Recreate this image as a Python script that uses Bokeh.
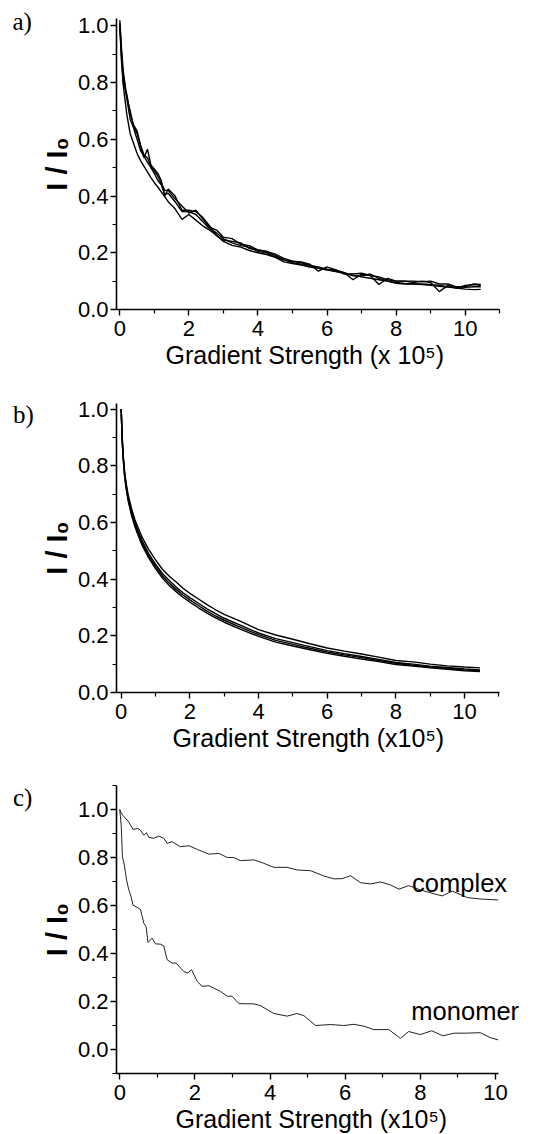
from bokeh.plotting import figure
from bokeh.layouts import column, row
from bokeh.models import FixedTicker, PrintfTickFormatter, Label, Range1d, Title
from bokeh.core.properties import value
from bokeh.embed import file_html
from bokeh.resources import INLINE

# ---------------- panel a data ----------------
xa = [0, 0.05, 0.1, 0.2, 0.3, 0.4, 0.5, 0.6, 0.7, 0.8,
      0.9, 1.0, 1.1, 1.2, 1.3, 1.4, 1.6, 1.8, 2.0, 2.2,
      2.4, 2.6, 2.8, 3.0, 3.25, 3.5, 3.75, 4.0, 4.25, 4.5,
      4.75, 5.0, 5.25, 5.5, 5.75, 6.0, 6.25, 6.5, 6.75, 7.0,
      7.25, 7.5, 7.75, 8.0, 8.25, 8.5, 8.75, 9.0, 9.25, 9.5,
      9.75, 10.0, 10.25, 10.45]
a1 = [1.0, 0.87, 0.79, 0.69, 0.62, 0.585, 0.55, 0.525, 0.505, 0.485,
      0.465, 0.447, 0.432, 0.415, 0.398, 0.38, 0.355, 0.318, 0.335, 0.315,
      0.295, 0.28, 0.262, 0.24, 0.226, 0.22, 0.208, 0.2, 0.194, 0.184,
      0.168, 0.162, 0.157, 0.15, 0.145, 0.14, 0.134, 0.128, 0.12, 0.115,
      0.11, 0.105, 0.1, 0.095, 0.092, 0.09, 0.088, 0.085, 0.082, 0.079,
      0.076, 0.072, 0.07, 0.071]
a2 = [1.02, 0.92, 0.84, 0.75, 0.70, 0.645, 0.62, 0.575, 0.535, 0.565,
      0.51, 0.495, 0.48, 0.455, 0.40, 0.425, 0.40, 0.35, 0.35, 0.345,
      0.325, 0.295, 0.26, 0.245, 0.24, 0.235, 0.215, 0.21, 0.205, 0.19,
      0.175, 0.17, 0.168, 0.16, 0.135, 0.15, 0.14, 0.13, 0.105, 0.125,
      0.12, 0.088, 0.11, 0.1, 0.1, 0.095, 0.1, 0.095, 0.063, 0.085,
      0.075, 0.085, 0.088, 0.085]
a3 = [1.01, 0.9, 0.8, 0.76, 0.69, 0.65, 0.63, 0.58, 0.545, 0.535,
      0.505, 0.49, 0.47, 0.445, 0.42, 0.42, 0.39, 0.365, 0.34, 0.35,
      0.32, 0.29, 0.28, 0.255, 0.25, 0.23, 0.225, 0.21, 0.205, 0.195,
      0.18, 0.17, 0.165, 0.155, 0.15, 0.142, 0.14, 0.125, 0.125, 0.128,
      0.12, 0.115, 0.105, 0.1, 0.1, 0.1, 0.098, 0.1, 0.09, 0.09,
      0.08, 0.078, 0.08, 0.08]
a4 = [1.0, 0.89, 0.83, 0.745, 0.67, 0.64, 0.60, 0.56, 0.54, 0.52,
      0.50, 0.48, 0.455, 0.44, 0.405, 0.41, 0.38, 0.345, 0.345, 0.335,
      0.31, 0.285, 0.27, 0.25, 0.235, 0.225, 0.22, 0.205, 0.2, 0.185,
      0.175, 0.165, 0.16, 0.155, 0.145, 0.14, 0.135, 0.13, 0.12, 0.118,
      0.125, 0.11, 0.1, 0.092, 0.09, 0.09, 0.09, 0.088, 0.085, 0.08,
      0.078, 0.08, 0.09, 0.088]

# ---------------- panel b data ----------------
xb = [0, 0.02, 0.05, 0.1, 0.15, 0.2, 0.3, 0.4, 0.5, 0.6,
      0.8, 1.0, 1.2, 1.4, 1.6, 1.8, 2.0, 2.25, 2.5, 2.75,
      3.0, 3.5, 4.0, 4.5, 5.0, 5.5, 6.0, 6.5, 7.0, 7.5,
      8.0, 8.5, 9.0, 9.5, 10.0, 10.45]
b1 = [1.0, 0.93, 0.85, 0.78, 0.735, 0.70, 0.65, 0.61, 0.58, 0.55,
      0.505, 0.468, 0.435, 0.41, 0.39, 0.368, 0.35, 0.33, 0.31, 0.292,
      0.276, 0.25, 0.222, 0.203, 0.188, 0.172, 0.157, 0.146, 0.136, 0.125,
      0.113, 0.108, 0.1, 0.094, 0.09, 0.087]
b2 = [1.0, 0.925, 0.845, 0.772, 0.727, 0.69, 0.64, 0.6, 0.568, 0.538,
      0.49, 0.453, 0.42, 0.395, 0.372, 0.352, 0.335, 0.315, 0.295, 0.278,
      0.262, 0.236, 0.21, 0.19, 0.176, 0.162, 0.148, 0.137, 0.127, 0.117,
      0.106, 0.1, 0.093, 0.088, 0.083, 0.08]
b3 = [1.0, 0.92, 0.84, 0.766, 0.72, 0.684, 0.632, 0.592, 0.56, 0.53,
      0.482, 0.445, 0.412, 0.386, 0.364, 0.344, 0.327, 0.307, 0.287, 0.27,
      0.255, 0.229, 0.204, 0.184, 0.17, 0.156, 0.143, 0.133, 0.123, 0.113,
      0.103, 0.096, 0.09, 0.085, 0.08, 0.077]
b4 = [1.0, 0.918, 0.835, 0.76, 0.714, 0.678, 0.625, 0.585, 0.552, 0.522,
      0.475, 0.437, 0.404, 0.378, 0.356, 0.336, 0.319, 0.299, 0.28, 0.263,
      0.248, 0.222, 0.198, 0.178, 0.164, 0.151, 0.138, 0.128, 0.118, 0.109,
      0.099, 0.093, 0.087, 0.082, 0.077, 0.074]

# ---------------- panel c data ----------------
xc = [0.0, 0.02, 0.08, 0.24, 0.35, 0.48, 0.55, 0.64, 0.71, 0.77,
      0.9, 1.04, 1.17, 1.26, 1.39, 1.61, 1.84, 2.06, 2.37, 2.64,
      2.86, 3.03, 3.21, 3.57, 3.83, 4.1, 4.45, 4.72, 5.08, 5.43,
      5.7, 5.92, 6.14, 6.41, 6.67, 6.94, 7.2, 7.43, 7.69, 8.0,
      8.31, 8.58, 8.85, 9.25, 9.6, 10.07]
complex_y = [1.0, 0.99, 0.976, 0.948, 0.917, 0.921, 0.914, 0.893, 0.903, 0.884,
             0.88, 0.889, 0.88, 0.859, 0.866, 0.845, 0.849, 0.834, 0.814, 0.817,
             0.8, 0.8, 0.787, 0.79, 0.776, 0.759, 0.759, 0.748, 0.745, 0.723,
             0.711, 0.712, 0.724, 0.695, 0.69, 0.698, 0.686, 0.668, 0.683, 0.665,
             0.651, 0.64, 0.66, 0.633, 0.627, 0.623]
xm = [0.0, 0.04, 0.07, 0.12, 0.18, 0.24, 0.30, 0.35, 0.55, 0.64,
      0.70, 0.75, 0.86, 0.95, 1.08, 1.17, 1.26, 1.39, 1.50, 1.70,
      1.81, 1.91, 2.06, 2.19, 2.37, 2.68, 2.86, 2.99, 3.17, 3.57,
      3.74, 4.1, 4.45, 4.72, 4.9, 5.21, 5.61, 5.96, 6.23, 6.5,
      6.76, 7.16, 7.47, 7.69, 8.0, 8.3, 8.6, 8.9, 9.2, 9.6,
      9.85, 10.07]
monomer_y = [1.0, 0.928, 0.803, 0.769, 0.706, 0.665, 0.637, 0.602, 0.584, 0.526,
             0.512, 0.446, 0.464, 0.44, 0.439, 0.432, 0.374, 0.36, 0.36, 0.325,
             0.319, 0.332, 0.284, 0.263, 0.266, 0.242, 0.222, 0.222, 0.191, 0.19,
             0.183, 0.15, 0.139, 0.15, 0.141, 0.1, 0.104, 0.1, 0.105, 0.097,
             0.083, 0.083, 0.046, 0.075, 0.062, 0.078, 0.057, 0.068, 0.068, 0.07,
             0.05, 0.04]

x_major = [0, 2, 4, 6, 8, 10]
y_major = [0.0, 0.2, 0.4, 0.6, 0.8, 1.0]
panel_tags = ["a)", "b)", "c)"]

SANS = "Liberation Sans"
SERIF = "Liberation Serif"


def make_fig(height, top, bottom, xr, xbounds, yr, x_minor, y_minor, xlabel, label_offset):
    # frame runs to the right edge of the page; the x axis is bounded to its own extent
    p = figure(width=502, height=height, x_range=Range1d(*xr), y_range=Range1d(*yr),
               output_backend="svg", toolbar_location=None,
               min_border_left=80, min_border_right=0,
               min_border_top=top, min_border_bottom=bottom)
    p.xgrid.visible = False
    p.ygrid.visible = False
    p.outline_line_color = None
    p.background_fill_color = "white"
    p.border_fill_color = "white"
    p.xaxis.bounds = xbounds
    p.xaxis.ticker = FixedTicker(ticks=x_major, minor_ticks=x_minor)
    p.yaxis.ticker = FixedTicker(ticks=y_major, minor_ticks=y_minor)
    p.yaxis.formatter = PrintfTickFormatter(format="%.1f")
    for ax in (p.xaxis[0], p.yaxis[0]):
        ax.axis_line_width = 1.6
        ax.axis_line_color = "black"
        ax.major_tick_line_width = 1.4
        ax.minor_tick_line_width = 1.2
        ax.major_tick_line_color = "black"
        ax.minor_tick_line_color = "black"
        ax.major_tick_out = 6
        ax.major_tick_in = 0
        ax.minor_tick_out = 4
        ax.minor_tick_in = 0
        ax.major_label_text_font = SANS
        ax.major_label_text_font_size = "22px"
        ax.major_label_text_color = "black"
    p.xaxis.major_label_standoff = 5
    p.yaxis.major_label_standoff = 2
    p.yaxis.axis_label = "I / I\u2080"
    p.yaxis.axis_label_text_font = SANS
    p.yaxis.axis_label_text_font_size = "29px"
    p.yaxis.axis_label_text_font_style = "bold"
    p.yaxis.axis_label_text_color = "black"
    p.yaxis.axis_label_standoff = 2
    p.add_layout(Title(text=xlabel, align="left", offset=label_offset, standoff=0,
                       text_font=SANS, text_font_size="25px", text_font_style="normal",
                       text_color="black"), "below")
    return p


pa = make_fig(375, 18, 66, (-0.096, 12.122), (-0.096, 11.0), (0.0, 1.026),
              [1, 3, 5, 7, 9, 11], [0.1, 0.3, 0.5, 0.7, 0.9],
              "Gradient Strength (x 10\u2075)", 49)
for ys in (a1, a2, a3, a4):
    pa.line(xa, ys, line_color="black", line_width=1.4)

pb = make_fig(377, 28, 60, (-0.137, 12.155), (-0.137, 11.03), (0.0, 1.02),
              [1, 3, 5, 7, 9, 11], [0.1, 0.3, 0.5, 0.7, 0.9],
              "Gradient Strength (x10\u2075)", 56)
for ys in (b1, b2, b3, b4):
    pb.line(xb, ys, line_color="black", line_width=1.4)

pc = make_fig(382, 33, 61, (-0.088, 11.144), (-0.088, 10.07), (-0.1, 1.1),
              [1, 3, 5, 7, 9], [-0.1, 0.1, 0.3, 0.5, 0.7, 0.9, 1.1],
              "Gradient Strength (x10\u2075)", 59)
pc.line(xc, complex_y, line_color="#222222", line_width=1.0)
pc.line(xm, monomer_y, line_color="#222222", line_width=1.0)
pc.add_layout(Label(x=7.78, y=0.695, text="complex", text_font=SANS,
                    text_font_size="25.5px", text_color="black", text_baseline="alphabetic"))
pc.add_layout(Label(x=7.76, y=0.16, text="monomer", text_font=SANS,
                    text_font_size="25.5px", text_color="black", text_baseline="alphabetic"))

# narrow strip on the left carrying the panel tags a), b), c)
tag = figure(width=36, height=1134, x_range=Range1d(0, 36), y_range=Range1d(1134, 0),
             output_backend="svg", toolbar_location=None,
             min_border_left=0, min_border_right=0, min_border_top=0, min_border_bottom=0)
tag.axis.visible = False
tag.grid.visible = False
tag.outline_line_color = None
tag.text(x=[12, 12.5, 12.5], y=[21, 414, 797], text=panel_tags,
         text_font=value(SERIF), text_font_size="25px", text_color="black",
         text_baseline="alphabetic")

layout = row(tag, column(pa, pb, pc, spacing=0), spacing=0)
open("out.html", "w").write(file_html(layout, INLINE))
